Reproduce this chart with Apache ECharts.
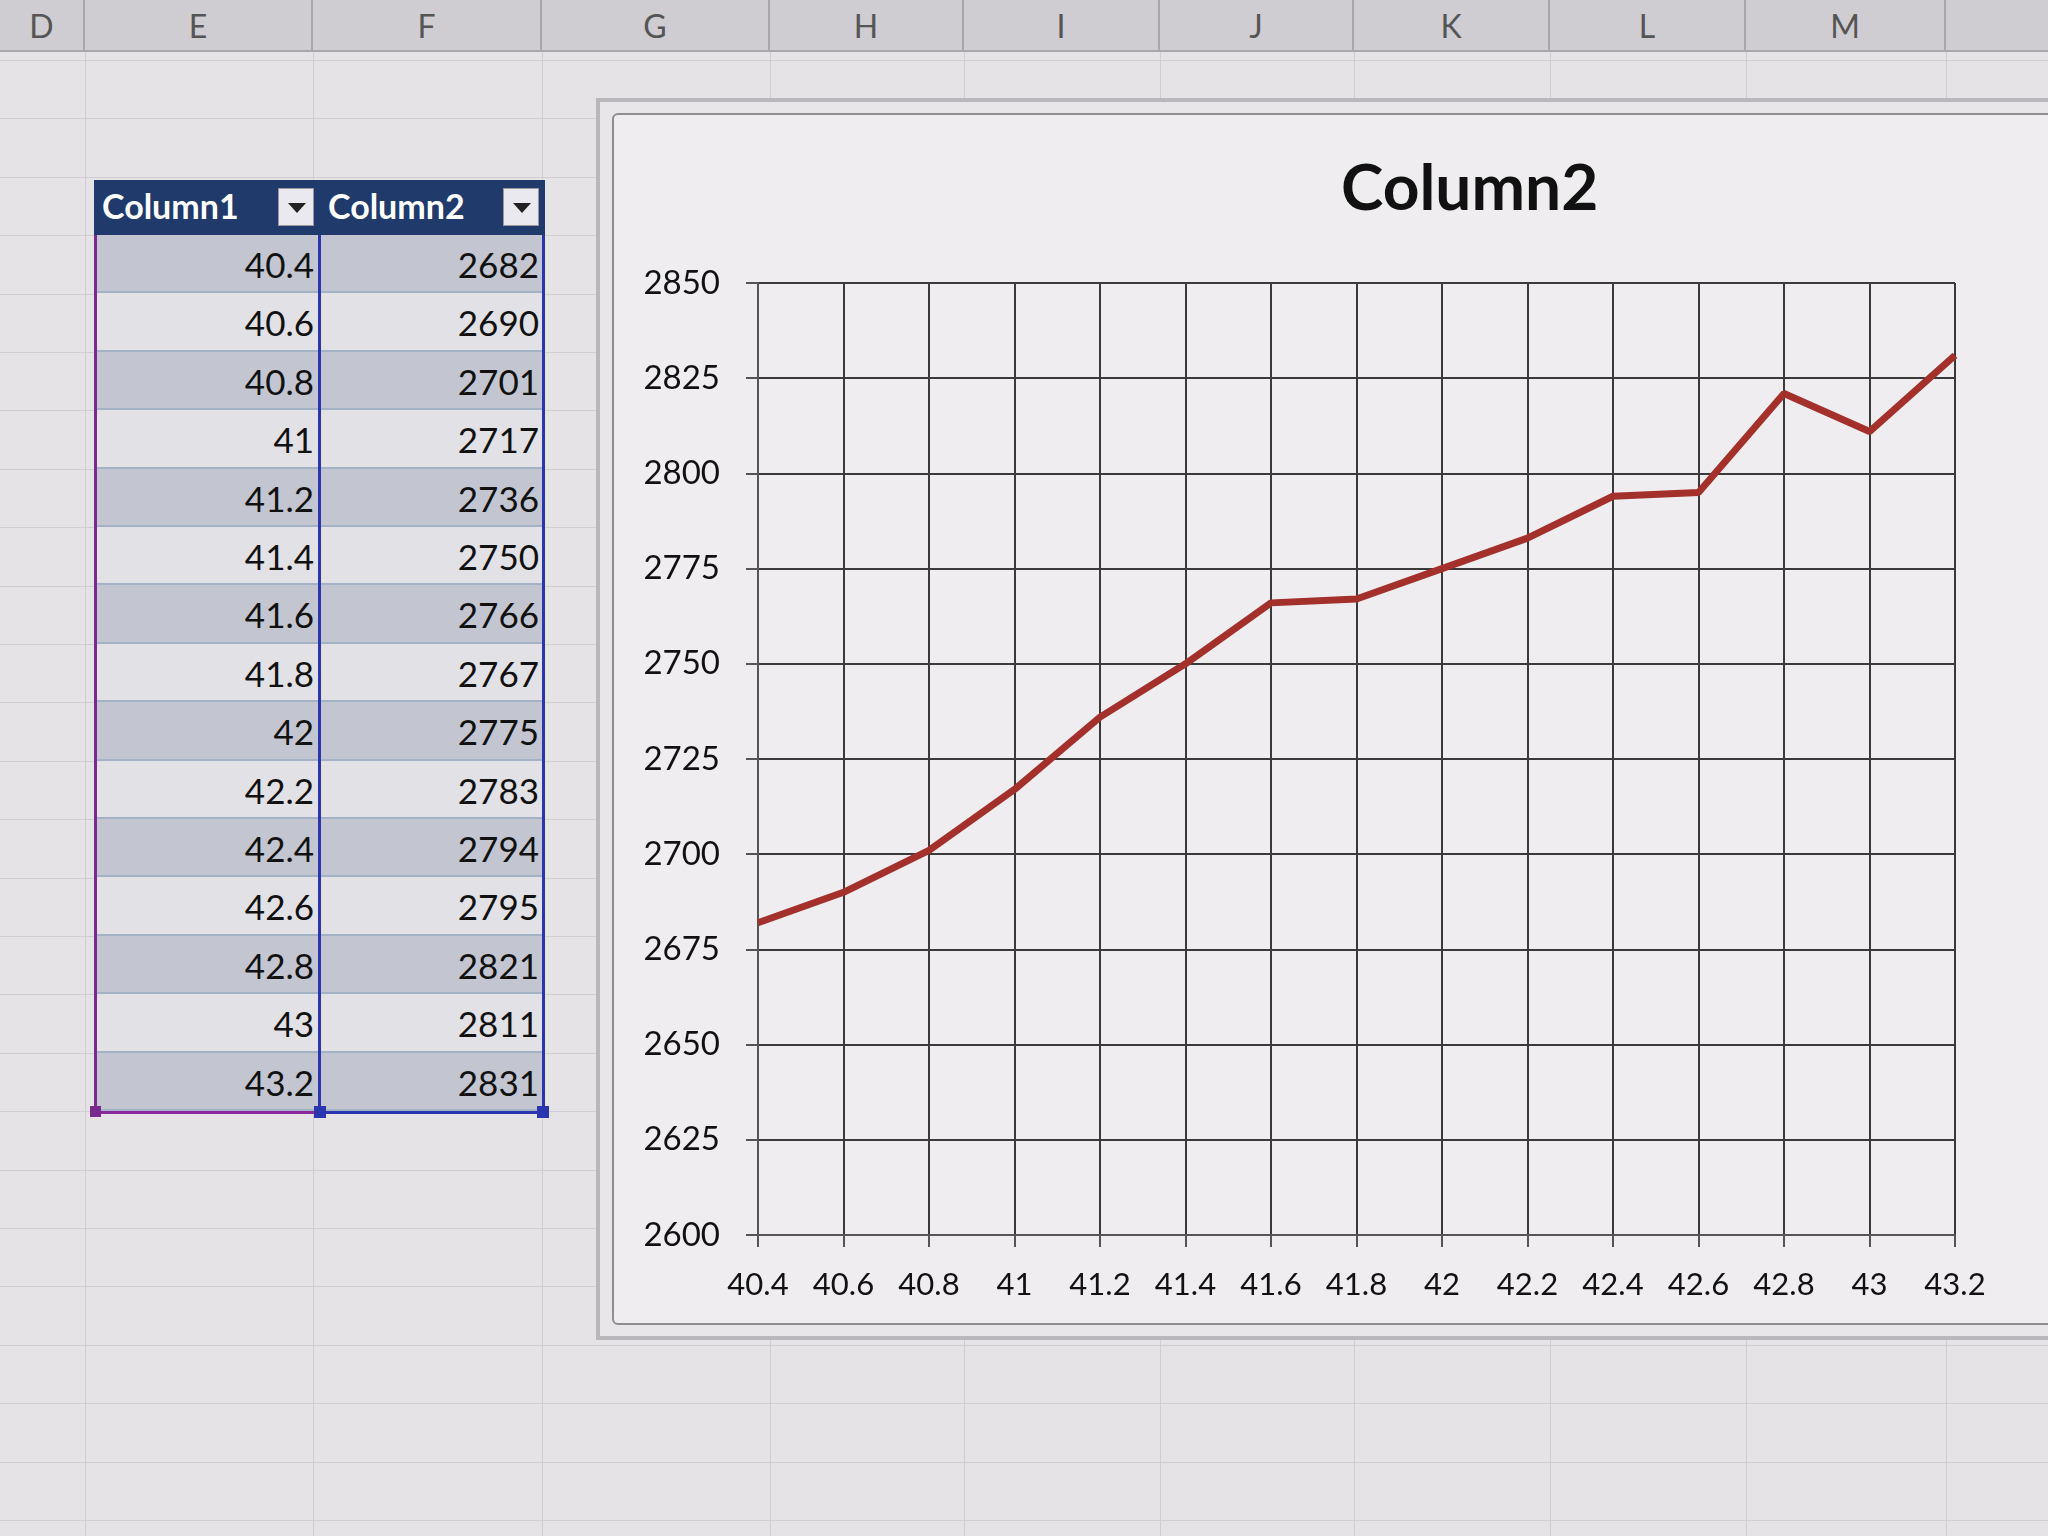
<!DOCTYPE html>
<html>
<head>
<meta charset="utf-8">
<script src="https://cdn.jsdelivr.net/npm/echarts@6/dist/echarts.min.js"></script>
<style>
  html, body { margin:0; padding:0; width:2048px; height:1536px; overflow:hidden; background:#e6e3e7; font-family: Lato, "Open Sans", sans-serif; }
  #sheet { position:absolute; left:0; top:0; width:2048px; height:1536px; }
  #chart { position:absolute; left:0; top:0; width:2048px; height:1536px; }
  .colhdr { position:absolute; top:0; height:52px; background:#cfcdd1; border-right:2px solid #a9a7ab; border-bottom:2px solid #a9a7ab; box-sizing:border-box; color:#555; font-size:32px; text-align:center; line-height:52px; }
  .hline { position:absolute; left:0; width:2048px; height:1px; background:#cfcdd3; }
  .vline { position:absolute; top:52px; width:1px; height:1484px; background:#cfcdd3; }
  .cell { position:absolute; box-sizing:border-box; font-size:35px; color:#111; text-align:right; padding-right:6px; }
  .hdr { position:absolute; background:#1f3a6b; color:#fff; font-weight:bold; font-size:34px; box-sizing:border-box; padding-left:8px; line-height:52px; }
  .btn { position:absolute; width:36px; height:38px; background:#e9e9ef; border:1px solid #999; box-sizing:border-box; }
  .btn:after { content:""; position:absolute; left:9px; top:14px; border-left:9px solid transparent; border-right:9px solid transparent; border-top:10px solid #222; }
</style>
</head>
<body>
<div id="sheet"></div>
<div id="chart"></div>
<script>
// ---- data ----
var categories = ['40.4','40.6','40.8','41','41.2','41.4','41.6','41.8','42','42.2','42.4','42.6','42.8','43','43.2'];
var values = [2682, 2690, 2701, 2717, 2736, 2750, 2766, 2767, 2775, 2783, 2794, 2795, 2821, 2811, 2831];
var tableHeaders = ['Column1', 'Column2'];
var columnLetters = ['E','F','G','H','I','J','K','L','M'];
var chartTitle = 'Column2';

(function () {
  // ---- spreadsheet background ----
  var sheet = document.getElementById('sheet');
  function add(cls, style, text) {
    var d = document.createElement('div');
    d.className = cls;
    d.setAttribute('style', style);
    if (text !== undefined) d.textContent = text;
    sheet.appendChild(d);
    return d;
  }
  var colBounds = [85, 313, 542, 770, 964, 1160, 1354, 1550, 1746, 1946];
  for (var r = 0; r < 26; r++) add('hline', 'top:' + (60 + r * 58.4) + 'px');
  for (var c = 0; c < colBounds.length; c++) add('vline', 'left:' + colBounds[c] + 'px');
  add('colhdr', 'left:0;width:' + colBounds[0] + 'px', 'D');
  for (var c2 = 0; c2 < columnLetters.length; c2++) {
    add('colhdr', 'left:' + colBounds[c2] + 'px;width:' + (colBounds[c2 + 1] - colBounds[c2]) + 'px', columnLetters[c2]);
  }
  add('colhdr', 'left:1946px;width:110px', '');

  // ---- table ----
  var tLeft = 94, tMid = 320, tRight = 545, hTop = 180, hH = 55, rowH = 58.4;
  add('hdr', 'left:' + tLeft + 'px;top:' + hTop + 'px;width:' + (tMid - tLeft) + 'px;height:' + hH + 'px', tableHeaders[0]);
  add('hdr', 'left:' + tMid + 'px;top:' + hTop + 'px;width:' + (tRight - tMid) + 'px;height:' + hH + 'px', tableHeaders[1]);
  add('btn', 'left:' + (tMid - 42) + 'px;top:' + (hTop + 8) + 'px');
  add('btn', 'left:' + (tRight - 42) + 'px;top:' + (hTop + 8) + 'px');
  for (var i = 0; i < categories.length; i++) {
    var rowTop = hTop + hH + i * rowH;
    var bg = (i % 2 === 0) ? '#c3c6d0' : '#e2e1e6';
    var st = 'top:' + rowTop + 'px;height:' + rowH + 'px;line-height:' + rowH + 'px;background:' + bg + ';border-bottom:2px solid #a4b2c6;';
    add('cell', st + 'left:' + tLeft + 'px;width:' + (tMid - tLeft) + 'px;', categories[i]);
    add('cell', st + 'left:' + tMid + 'px;width:' + (tRight - tMid) + 'px;', String(values[i]));
  }
  var tBottom = hTop + hH + categories.length * rowH;
  var bodyH = tBottom - hTop - hH;
  add('', 'position:absolute;left:' + tLeft + 'px;top:' + (hTop + hH) + 'px;width:3px;height:' + bodyH + 'px;background:#7a2a8c');
  add('', 'position:absolute;left:' + (tMid - 2) + 'px;top:' + (hTop + hH) + 'px;width:3px;height:' + bodyH + 'px;background:#2a35b0');
  add('', 'position:absolute;left:' + (tRight - 3) + 'px;top:' + (hTop + hH) + 'px;width:3px;height:' + bodyH + 'px;background:#2a35b0');
  add('', 'position:absolute;left:' + tLeft + 'px;top:' + tBottom + 'px;width:' + (tMid - tLeft) + 'px;height:3px;background:#8a2a9c');
  add('', 'position:absolute;left:' + tMid + 'px;top:' + tBottom + 'px;width:' + (tRight - tMid) + 'px;height:3px;background:#2a35b0');
  add('', 'position:absolute;left:' + (tLeft - 4) + 'px;top:' + (tBottom - 5) + 'px;width:11px;height:11px;background:#7a2a8c');
  add('', 'position:absolute;left:' + (tMid - 6) + 'px;top:' + (tBottom - 5) + 'px;width:12px;height:12px;background:#2a35b0');
  add('', 'position:absolute;left:' + (tRight - 8) + 'px;top:' + (tBottom - 5) + 'px;width:12px;height:12px;background:#2a35b0');

  // ---- chart frame ----
  add('', 'position:absolute;left:596px;top:98px;width:1500px;height:1242px;border:4px solid #b9b7bb;box-sizing:border-box;background:#e9e6ea');
  add('', 'position:absolute;left:612px;top:113px;width:1480px;height:1212px;border:2px solid #8f8d92;border-radius:6px;box-sizing:border-box;background:#efedf0');
})();

// ---- chart ----
var chart = echarts.init(document.getElementById('chart'), null, { renderer: 'canvas' });
chart.setOption({
  backgroundColor: 'transparent',
  animation: false,
  title: {
    text: chartTitle,
    left: 1336,
    top: 152,
    textStyle: { fontFamily: 'Lato, "Open Sans", sans-serif', fontWeight: 'bold', fontSize: 64, color: '#111' }
  },
  grid: { left: 758, top: 283, width: 1197, height: 952, containLabel: false },
  xAxis: {
    type: 'category',
    data: categories,
    boundaryGap: false,
    axisLine: { lineStyle: { color: '#555', width: 2 } },
    axisTick: { show: true, inside: false, length: 12, lineStyle: { color: '#555', width: 2 } },
    axisLabel: { interval: 0, margin: 34, fontSize: 31, color: '#111', fontFamily: 'Lato, "Open Sans", sans-serif' },
    splitLine: { show: true, interval: 0, lineStyle: { color: '#3a3a3a', width: 2 } }
  },
  yAxis: {
    type: 'value',
    min: 2600,
    max: 2850,
    interval: 25,
    axisLine: { show: true, lineStyle: { color: '#555', width: 2 } },
    axisTick: { show: true, length: 12, lineStyle: { color: '#555', width: 2 } },
    axisLabel: { margin: 38, fontSize: 33, color: '#111', fontFamily: 'Lato, "Open Sans", sans-serif', formatter: function (v) { return String(v); } },
    splitLine: { show: true, lineStyle: { color: '#3a3a3a', width: 2 } }
  },
  series: [{
    type: 'line',
    data: values,
    symbol: 'none',
    lineStyle: { color: '#a3302b', width: 7 },
    itemStyle: { color: '#a3302b' }
  }]
});
</script>
</body>
</html>
